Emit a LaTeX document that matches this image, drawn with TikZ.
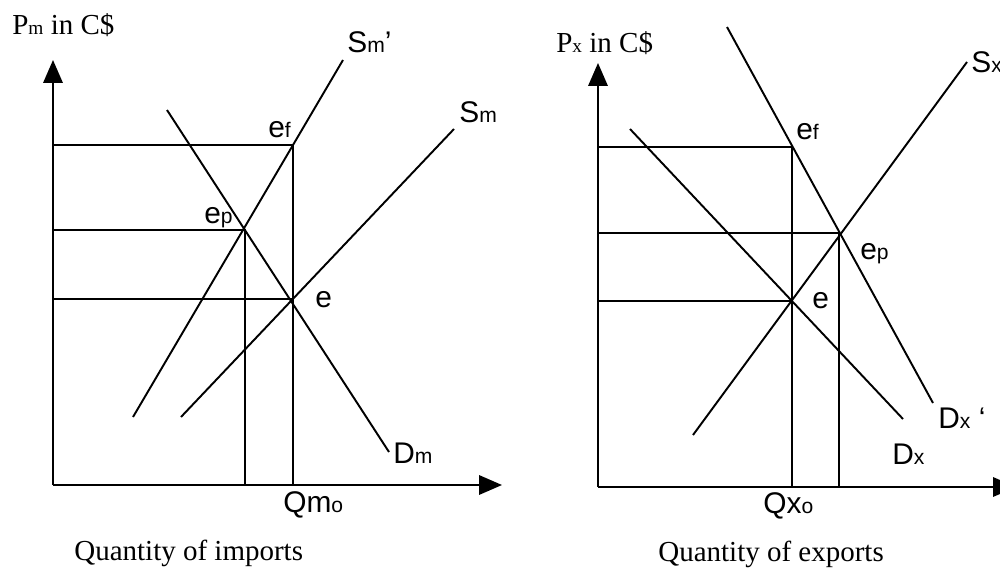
\documentclass[tikz,border=0pt]{standalone}
\usepackage{fontspec}
\setmainfont{Liberation Serif}
\newfontfamily\arialfont{Liberation Sans}
\usepackage{tikz}
\usetikzlibrary{arrows.meta, positioning}
\definecolor{myink}{RGB}{0,0,0}
\newcommand{\lbsub}[1]{{\fontsize{12}{12}\selectfont #1}}
\newcommand{\ttsub}[1]{{\fontsize{11}{11}\selectfont #1}}
\tikzset{
  axis/.style={line width=1.1pt, color=myink, -{Triangle[length=13pt, width=11pt]}},
  curve/.style={line width=1.1pt, color=myink},
  guide/.style={line width=1.1pt, color=myink},
  lbl/.style={anchor=base west, inner sep=0pt, font=\arialfont\fontsize{17}{20}\selectfont},
  ttl/.style={anchor=base west, inner sep=0pt, font=\fontsize{16.5}{19}\selectfont}
}

\begin{document}
\begin{tikzpicture}[x=0.02cm, y=-0.02cm]
  \clip (0,0) rectangle (1000,571);
  \useasboundingbox (0,0) rectangle (1000,571);

  % Imports panel
  \coordinate (mO)  at (53,485);
  \coordinate (mY)  at (53,60);
  \coordinate (mX)  at (502,485);
  \coordinate (mef) at (293,145);
  \coordinate (mep) at (245,230);
  \coordinate (me)  at (292,299);
  \coordinate (mpf) at (53,145);
  \coordinate (mpp) at (53,230);
  \coordinate (mpe) at (53,299);
  \coordinate (mqf) at (293,485);
  \coordinate (mqp) at (245,485);
  \coordinate (smA) at (133,417);
  \coordinate (smB) at (343,60);
  \coordinate (snA) at (181,417);
  \coordinate (snB) at (454,129);
  \coordinate (dmA) at (167,110);
  \coordinate (dmB) at (389,452);

  \draw[axis] (mO) -- (mY);
  \draw[axis] (mO) -- (mX);
  \draw[guide] (mpf) -- (mef) -- (mqf);
  \draw[guide] (mpp) -- (mep) -- (mqp);
  \draw[guide] (mpe) -- (me);
  \draw[curve] (smA) -- (smB);
  \draw[curve] (snA) -- (snB);
  \draw[curve] (dmA) -- (dmB);

  \node[ttl] (pm)  at (12,35)  {P\ttsub{m} in C\$};
  \node[lbl] (smp) at (347,53) {S\lbsub{m}’};
  \node[lbl] (sml) at (459,122) {S\lbsub{m}};
  \node[lbl] (efm) at (268,137) {e\lbsub{f}};
  \node[lbl] (epm) at (204,223) {e\lbsub{p}};
  \node[lbl] (em)  at (315,307) {e};
  \node[lbl] (dml) at (393,463) {D\lbsub{m}};
  \node[lbl] (qm)  at (283,512) {Qm\lbsub{o}};
  \node[ttl] (qim) at (74,560) {Quantity of imports};

  % Exports panel
  \coordinate (xO)  at (598,487);
  \coordinate (xY)  at (598,63);
  \coordinate (xX)  at (1016,487);
  \coordinate (xef) at (792,147);
  \coordinate (xep) at (839,233);
  \coordinate (xe)  at (791,301);
  \coordinate (xpf) at (598,147);
  \coordinate (xpp) at (598,233);
  \coordinate (xpe) at (598,301);
  \coordinate (xqf) at (792,487);
  \coordinate (xqp) at (839,487);
  \coordinate (dxpA) at (727,27);
  \coordinate (dxpB) at (933,403);
  \coordinate (dxA) at (630,129);
  \coordinate (dxB) at (903,419);
  \coordinate (sxA) at (693,435);
  \coordinate (sxB) at (967,62);

  \draw[axis] (xO) -- (xY);
  \draw[axis] (xO) -- (xX);
  \draw[guide] (xpf) -- (xef) -- (xqf);
  \draw[guide] (xpp) -- (xep) -- (xqp);
  \draw[guide] (xpe) -- (xe);
  \draw[curve] (dxpA) -- (dxpB);
  \draw[curve] (dxA) -- (dxB);
  \draw[curve] (sxA) -- (sxB);

  \node[ttl] (px)  at (556,53)  {P\ttsub{x} in C\$};
  \node[lbl] (sxl) at (971,72)  {S\lbsub{x}};
  \node[lbl] (efx) at (796,139) {e\lbsub{f}};
  \node[lbl] (epx) at (860,259) {e\lbsub{p}};
  \node[lbl] (ex)  at (812,308) {e};
  \node[lbl] (dxp) at (938,428) {D\lbsub{x} ‘};
  \node[lbl] (dxl) at (892,464) {D\lbsub{x}};
  \node[lbl] (qx)  at (763,513) {Qx\lbsub{o}};
  \node[ttl] (qex) at (658,561) {Quantity of exports};
\end{tikzpicture}
\end{document}
